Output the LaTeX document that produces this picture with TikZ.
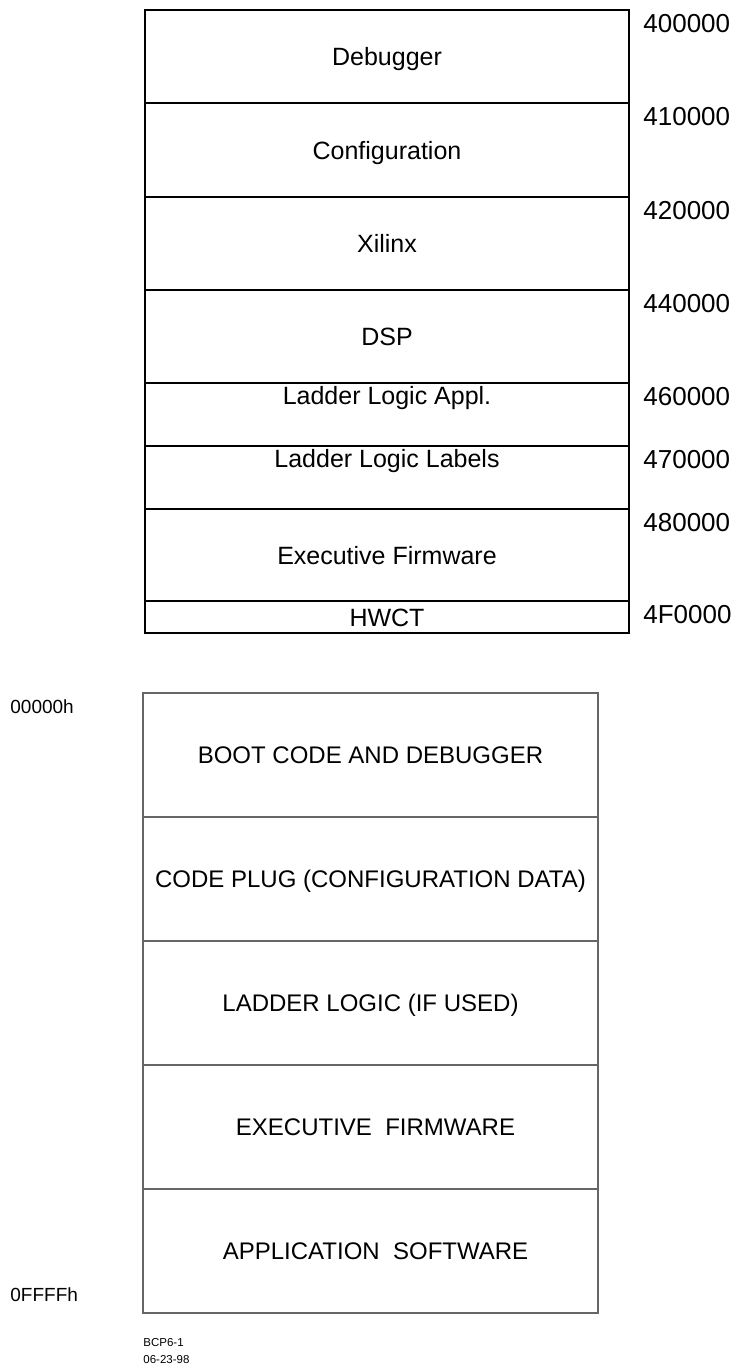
\documentclass[tikz,border=0pt]{standalone}
\usepackage{fontspec}
\setmainfont{Liberation Sans}
\usetikzlibrary{positioning}
\def\flashw{242pt}
\def\ramw{227.5pt}
\tikzset{
semithick,
my cell/.style={draw,rectangle,inner sep=0pt,outer sep=0pt,
  font=\fontsize{12pt}{14pt}\selectfont,text height=8.6pt,text depth=0pt},
flash/.style={my cell,line width=1.25pt,minimum width=\flashw,
  font=\fontsize{12.5pt}{15pt}\selectfont,text height=9pt},
ram/.style={my cell,draw=black!60,line width=0.75pt,minimum width=\ramw,minimum height=62pt},
top text/.style={text depth=19pt},
addr/.style={anchor=west,inner sep=0pt,font=\fontsize{13pt}{15pt}\selectfont},
bound/.style={anchor=west,inner sep=0pt,font=\fontsize{9.5pt}{11pt}\selectfont},
stamp/.style={anchor=north west,inner sep=0pt,align=left,font=\fontsize{5.75pt}{8.5pt}\selectfont},
}

\begin{document}
\begin{tikzpicture}[x=0.5pt,y=-0.5pt]
\useasboundingbox (0,0) rectangle (735,1366);
% flash map
\node[flash,anchor=north west,minimum height=46.5pt] (dbg) at (145,10) {Debugger};
\node[flash,below=0pt of dbg,minimum height=47pt] (cfg) {Configuration};
\node[flash,below=0pt of cfg,minimum height=46.5pt] (xil) {Xilinx};
\node[flash,below=0pt of xil,minimum height=46.5pt] (dsp) {DSP};
\node[flash,below=0pt of dsp,minimum height=31.5pt,top text] (lla) {Ladder Logic Appl.};
\node[flash,below=0pt of lla,minimum height=31.5pt,top text] (lll) {Ladder Logic Labels};
\node[flash,below=0pt of lll,minimum height=46pt] (exf) {Executive Firmware};
\node[flash,below=0pt of exf,minimum height=16pt] (hwct) {HWCT};
% start addresses
\foreach \cell/\adr in {dbg/400000,cfg/410000,xil/420000,dsp/440000,
  lla/460000,lll/470000,exf/480000,hwct/4F0000}
  \node[addr] (a\adr) at ([xshift=7pt,yshift=-7pt]\cell.north east) {\adr};
% ram map
\node[ram,anchor=north west] (boot) at (143,693) {BOOT CODE AND DEBUGGER};
\node[ram,below=0pt of boot] (plug) {CODE PLUG (CONFIGURATION DATA)};
\node[ram,below=0pt of plug] (ldr) {LADDER LOGIC (IF USED)};
\node[ram,below=0pt of ldr] (exec) {\hspace*{5pt}EXECUTIVE\ \ FIRMWARE};
\node[ram,below=0pt of exec] (app) {\hspace*{5pt}APPLICATION\ \ SOFTWARE};
\node[bound] (lo) at (10,707) {00000h};
\node[bound] (hi) at (10,1295) {0FFFFh};
\node[stamp] (tag) at (143,1338) {BCP6-1\\06-23-98};
\end{tikzpicture}
\end{document}
